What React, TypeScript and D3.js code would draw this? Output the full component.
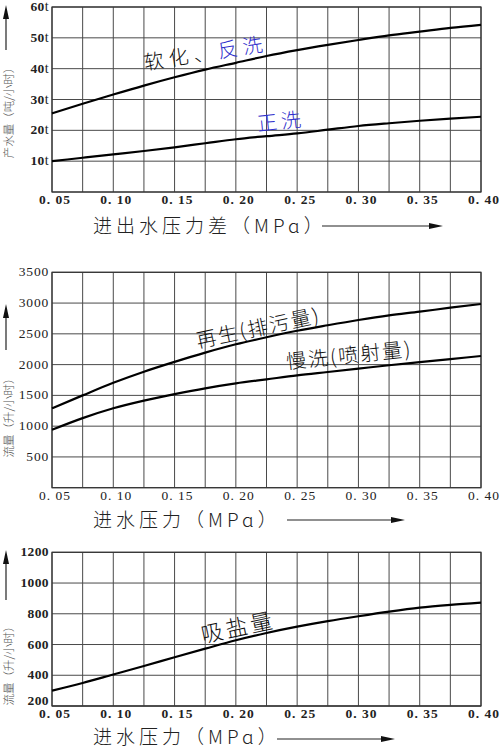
import * as d3 from 'd3';

// pressure grid (MPa), one point per vertical grid line
const pressure = [0.05, 0.075, 0.1, 0.125, 0.15, 0.175, 0.2, 0.225, 0.25, 0.275, 0.3, 0.325, 0.35, 0.375, 0.4];
const pressureTicks = [0.05, 0.1, 0.15, 0.2, 0.25, 0.3, 0.35, 0.4];

// top: output (t/h)
const outputTicks = [10, 20, 30, 40, 50, 60];
const softenBackwash = [25.5, 28.6, 31.6, 34.5, 37.2, 39.7, 41.9, 44.1, 46.0, 47.7, 49.3, 50.8, 52.0, 53.2, 54.2];
const rinse = [10.0, 11.1, 12.2, 13.3, 14.5, 15.8, 17.1, 18.1, 19.0, 20.2, 21.4, 22.3, 23.1, 23.8, 24.4];

// middle: flow (L/h)
const flowTicksMid = [500, 1000, 1500, 2000, 2500, 3000, 3500];
const regeneration = [1290, 1500, 1705, 1885, 2045, 2195, 2330, 2445, 2550, 2640, 2725, 2800, 2860, 2925, 2985];
const slowWash = [940, 1130, 1290, 1415, 1520, 1615, 1695, 1760, 1825, 1880, 1935, 1990, 2040, 2090, 2140];

// bottom: brine draw (L/h)
const flowTicksLow = [200, 400, 600, 800, 1000, 1200];
const brineDraw = [300, 350, 405, 460, 517, 573, 628, 675, 716, 752, 784, 814, 840, 858, 872];

const CJK = '"Noto Sans CJK SC", sans-serif';
const NUM = '"Liberation Serif", serif';
const BLUE = '#2f2fcc';
const GRID = '#4a4a4a';

const x = d3.scaleLinear().domain([0.05, 0.4]).range([52, 481]);

function Arrow({ x1, x2, y }: { x1: number; x2: number; y: number }) {
    return (
        <g>
            <line x1={x1} x2={x2 - 10} y1={y} y2={y} stroke="#222" strokeWidth={1.2} />
            <path d={`M${x2},${y} L${x2 - 14},${y - 3} L${x2 - 14},${y + 3} Z`} fill="#111" />
        </g>
    );
}

function UpArrow({ cx, y1, y2 }: { cx: number; y1: number; y2: number }) {
    return (
        <g>
            <line x1={cx} x2={cx} y1={y2} y2={y1 + 10} stroke="#222" strokeWidth={1.2} />
            <path d={`M${cx},${y1} L${cx - 3},${y1 + 14} L${cx + 3},${y1 + 14} Z`} fill="#111" />
        </g>
    );
}

interface PanelProps {
    top: number;
    bottom: number;
    domain: [number, number];
    ticks: number[];
    series: number[][];
    bold: boolean;
    unit?: string;
    xLabelY: number;
    title: string;
    titleY: number;
    arrow: [number, number, number];
    yTitle: string;
    yTitleY: number;
    yArrow: [number, number];
}

function Panel(p: PanelProps) {
    const y = d3.scaleLinear().domain(p.domain).range([p.bottom, p.top]);
    const line = d3.line<number>()
        .x((_, i) => x(pressure[i]))
        .y(d => y(d))
        .curve(d3.curveMonotoneX);

    return (
        <g>
            {pressure.map(v => (
                <line key={'v' + v} x1={x(v)} x2={x(v)} y1={p.top} y2={p.bottom} stroke={GRID} strokeWidth={1} />
            ))}
            {[p.domain[0], ...p.ticks].map(v => (
                <line key={'h' + v} x1={52} x2={481} y1={y(v)} y2={y(v)} stroke={GRID} strokeWidth={1} />
            ))}
            <rect x={52} y={p.top} width={429} height={p.bottom - p.top} fill="none" stroke="#333" strokeWidth={1.2} />

            {p.series.map((s, i) => (
                <path key={i} d={line(s)!} fill="none" stroke="#000" strokeWidth={2.2} />
            ))}

            {p.ticks.map(v => (
                <text key={'yt' + v} x={49} y={Math.min(y(v) + 1, p.bottom - 4)} textAnchor="end" dominantBaseline="middle"
                    fontFamily={NUM} fontSize={13.5} fontWeight={p.bold ? 700 : 400} letterSpacing={p.bold ? 0.4 : 0.8}
                    fill="#222">
                    {v}{p.unit && <tspan fontWeight={400} fontSize={14}>{p.unit}</tspan>}
                </text>
            ))}

            {pressureTicks.map(v => (
                <text key={'xt' + v} x={x(v) + 3} y={p.xLabelY} textAnchor="middle"
                    fontFamily={NUM} fontSize={13.5} fontWeight={p.bold ? 700 : 400} letterSpacing={1} fill="#222"
                    style={{ whiteSpace: 'pre' }}>
                    {v.toFixed(2).replace('.', '. ')}
                </text>
            ))}

            <text x={93} y={p.titleY} fontFamily={CJK} fontSize={19} fontWeight={300} letterSpacing={4} fill="#222">{p.title}</text>
            <Arrow x1={p.arrow[0]} x2={p.arrow[1]} y={p.arrow[2]} />

            <text transform={`translate(13,${p.yTitleY}) rotate(-90)`} textAnchor="middle"
                fontFamily={CJK} fontSize={11.5} fontWeight={300} fill="#555">{p.yTitle}</text>
            <UpArrow cx={6} y1={p.yArrow[0]} y2={p.yArrow[1]} />
        </g>
    );
}

export default function App() {
    return (
        <svg width={500} height={748} style={{ position: 'absolute', left: 0, top: 0, background: '#fff' }}>
            <Panel top={7} bottom={192} domain={[0, 60]} ticks={outputTicks} series={[softenBackwash, rinse]}
                bold unit="t" xLabelY={204}
                title="进出水压力差（MPɑ）" titleY={233} arrow={[322, 443, 226]}
                yTitle="产水量（吨/小时）" yTitleY={110} yArrow={[5, 50]} />
            <text transform="translate(145,70) rotate(-9)" fontFamily={CJK} fontSize={20} fontWeight={300} letterSpacing={5}>
                <tspan fill="#111">软化、</tspan><tspan fill={BLUE}>反洗</tspan>
            </text>
            <text transform="translate(258,131) rotate(-6)" fontFamily={CJK} fontSize={20} fontWeight={300} letterSpacing={4}
                fill={BLUE}>正洗</text>

            <Panel top={272.3} bottom={487.7} domain={[0, 3500]} ticks={flowTicksMid} series={[regeneration, slowWash]}
                bold={false} xLabelY={500}
                title="进水压力（MPɑ）" titleY={527} arrow={[287, 405, 520]}
                yTitle="流量（升/小时）" yTitleY={415} yArrow={[304, 350]} />
            <text transform="translate(198,348) rotate(-12)" fontFamily={CJK} fontSize={20} fontWeight={300} letterSpacing={2}
                fill="#111">再生(排污量)</text>
            <text transform="translate(287,369) rotate(-6)" fontFamily={CJK} fontSize={20} fontWeight={300} letterSpacing={2}
                fill="#111">慢洗(喷射量)</text>

            <Panel top={552.3} bottom={706} domain={[200, 1200]} ticks={flowTicksLow} series={[brineDraw]}
                bold xLabelY={718}
                title="进水压力（MPɑ）" titleY={744} arrow={[277, 395, 739]}
                yTitle="流量（升/小时）" yTitleY={663} yArrow={[550, 600]} />
            <text transform="translate(203,643) rotate(-12)" fontFamily={CJK} fontSize={22} fontWeight={300} letterSpacing={3}
                fill="#111">吸盐量</text>
        </svg>
    );
}
